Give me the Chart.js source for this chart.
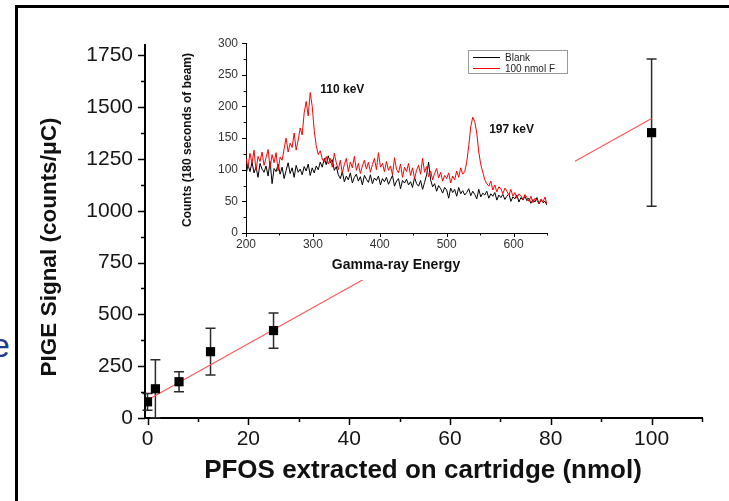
<!DOCTYPE html>
<html>
<head>
<meta charset="utf-8">
<script src="https://cdn.jsdelivr.net/npm/chart.js@4.4.1/dist/chart.umd.min.js"></script>
<style>
  html, body { margin: 0; padding: 0; background: #fff; overflow: hidden; }
  #wrap { position: relative; width: 729px; height: 501px; overflow: hidden; }
  #frame { position: absolute; left: 15px; top: 5px; width: 760px; height: 520px; border-left: 3px solid #000; border-top: 3px solid #000; }
  #cut { position: absolute; left: -9px; top: 326px; font: 34px "Liberation Sans", Arial, sans-serif; color: #1f3c8c; }
  #main { position: absolute; left: 0; top: 0; }
  #inset { position: absolute; left: 172px; top: 28px; background: #fff; }
</style>
</head>
<body>
<div id="wrap">
  <div id="cut">e</div>
  <div id="frame"></div>
  <canvas id="main" width="729" height="501"></canvas>
  <canvas id="inset" width="403" height="252"></canvas>
</div>
<script>
// main plot: PIGE signal vs PFOS on cartridge
const pfosNmol = [0, 1.5625, 6.25, 12.5, 25, 100];
const pigeSignal = [78, 141, 175, 320, 422, 1377];
const pigeError = [40, 140, 48, 113, 85, 355];
const fitNmol = [0, 100];
const fitSignal = [87, 1445];
const mainXTicks = [0, 20, 40, 60, 80, 100];
const mainXMinor = [10, 30, 50, 70, 90, 110];
const mainYTicks = [0, 250, 500, 750, 1000, 1250, 1500, 1750];
const mainYMinor = [125, 375, 625, 875, 1125, 1375, 1625];
const mainXTitle = "PFOS extracted on cartridge (nmol)";
const mainYTitle = "PIGE Signal (counts/\u03BCC)";

// inset: gamma spectra, one reading every 3 keV starting at 200 keV
const energyStart = 200;
const energyStep = 3;
const blankCounts = [
  92, 108, 97, 112, 95, 104, 88, 110, 101, 96,
  106, 90, 113, 78, 102, 97, 109, 93, 104, 86,
  99, 111, 94, 103, 88, 107, 96, 101, 92, 105,
  98, 109, 91, 103, 95, 106, 100, 112, 104, 118,
  108, 122, 111, 116, 99, 105, 92, 86, 97, 81,
  90, 84, 95, 79, 88, 93, 82, 89, 76, 91,
  85, 80, 92, 78, 87, 83, 90, 76, 86, 81,
  88, 77, 84, 91, 74, 82, 86, 70, 83, 79,
  85, 76, 81, 72, 88, 78, 74, 83, 69, 80,
  92, 112, 84, 73, 78, 66, 75, 70, 63, 72,
  68, 55, 71, 64, 69, 58, 72, 62, 67, 60,
  64, 70, 59, 66, 61, 54, 69, 57, 63, 60,
  66, 55, 62, 58, 64, 52, 60, 56, 61, 53,
  58, 62, 50, 57, 54, 60, 49, 56, 52, 58,
  51, 55, 47, 53, 49, 56, 46, 52, 48, 50,
  44
];
const fluorCounts = [
  118, 104, 126, 110, 131, 99, 121, 113, 128, 107,
  119, 132, 103, 124, 111, 127, 98, 120, 115, 133,
  150, 128, 142, 135, 158, 131, 147, 166, 155, 190,
  208, 185, 222, 200, 162, 138, 124, 130, 117, 112,
  121, 109, 118, 104, 126, 111, 100, 115, 95, 108,
  118, 97, 112, 103, 121, 99, 110, 94, 106, 115,
  101, 112, 96, 108, 118, 100, 127, 104, 110, 97,
  113, 99, 106, 92, 119, 101, 95, 109, 88, 104,
  97, 110, 91, 103, 86, 99, 107, 93, 118, 96,
  105, 89, 98, 84, 94, 102, 87, 96, 82, 91,
  86, 95, 79, 90, 84, 98, 88, 103, 93, 97,
  112, 138, 168, 183, 176, 158, 128, 108, 96, 84,
  78, 74, 82, 68, 76, 65, 73, 70, 62, 71,
  66, 60, 69, 58, 64, 55, 62, 59, 53, 61,
  56, 50, 58, 48, 55, 52, 46, 54, 49, 57,
  45
];
const seriesNames = ["Blank", "100 nmol F"];
const peakNames = ["110 keV", "197 keV"];
const insetXTicks = [200, 300, 400, 500, 600];
const insetXMinor = [250, 350, 450, 550, 650];
const insetYTicks = [0, 50, 100, 150, 200, 250, 300];
const insetYMinor = [25, 75, 125, 175, 225, 275];
const insetXTitle = "Gamma-ray Energy";
const insetYTitle = "Counts (180 seconds of beam)";

const FONT = '"Liberation Sans", Arial, sans-serif';

function toXY(xs, ys) {
  return ys.map((y, i) => ({ x: xs[i], y: y }));
}
function spectrum(counts) {
  return counts.map((c, i) => ({ x: energyStart + energyStep * i, y: c }));
}
function fixedTicks(values) {
  return scale => { scale.ticks = values.map(v => ({ value: v })); };
}
function drawTickMarks(ctx, scale, values, len, width) {
  ctx.save();
  ctx.strokeStyle = '#000';
  ctx.lineWidth = width;
  ctx.beginPath();
  values.forEach(v => {
    const p = Math.round(scale.getPixelForValue(v)) + 0.5;
    if (scale.isHorizontal()) {
      ctx.moveTo(p, scale.top);
      ctx.lineTo(p, scale.top + len);
    } else {
      ctx.moveTo(scale.right, p);
      ctx.lineTo(scale.right - len, p);
    }
  });
  ctx.stroke();
  ctx.restore();
}
function drawText(ctx, text, x, y, font, rotate) {
  ctx.save();
  ctx.font = font;
  ctx.fillStyle = '#111';
  ctx.textAlign = 'center';
  ctx.textBaseline = 'middle';
  ctx.translate(x, y);
  if (rotate) ctx.rotate(-Math.PI / 2);
  ctx.fillText(text, 0, 0);
  ctx.restore();
}

// error bars and axis decorations for the main plot
const mainExtras = {
  id: 'mainExtras',
  beforeDatasetsDraw(chart) {
    const { ctx, scales: { x, y } } = chart;
    ctx.save();
    ctx.strokeStyle = '#2b2b2b';
    ctx.lineWidth = 1.5;
    pfosNmol.forEach((n, i) => {
      const px = x.getPixelForValue(n);
      const top = y.getPixelForValue(pigeSignal[i] + pigeError[i]);
      const bot = y.getPixelForValue(Math.max(0, pigeSignal[i] - pigeError[i]));
      ctx.beginPath();
      ctx.moveTo(px, top); ctx.lineTo(px, bot);
      ctx.moveTo(px - 5, top); ctx.lineTo(px + 5, top);
      if (pigeSignal[i] - pigeError[i] > 0) {
        ctx.moveTo(px - 5, bot); ctx.lineTo(px + 5, bot);
      }
      ctx.stroke();
    });
    ctx.restore();
  },
  afterDraw(chart) {
    const { ctx, scales: { x, y } } = chart;
    drawTickMarks(ctx, x, mainXTicks, 7, 1.5);
    drawTickMarks(ctx, x, mainXMinor, 4, 1.5);
    drawTickMarks(ctx, y, mainYTicks, 7, 1.5);
    drawTickMarks(ctx, y, mainYMinor, 4, 1.5);
    drawText(ctx, mainYTitle, 50, 247, 'bold 22.5px ' + FONT, true);
    drawText(ctx, mainXTitle, 423, 471, 'bold 26px ' + FONT, false);
  }
};

new Chart(document.getElementById('main'), {
  type: 'scatter',
  data: {
    datasets: [
      {
        data: toXY(pfosNmol, pigeSignal),
        pointStyle: 'rect',
        pointRadius: 6.5,
        backgroundColor: '#000',
        borderColor: '#000',
        borderWidth: 0
      },
      {
        data: toXY(fitNmol, fitSignal),
        showLine: true,
        borderColor: '#ff5a5a',
        borderWidth: 1.2,
        pointRadius: 0
      }
    ]
  },
  options: {
    responsive: false,
    animation: false,
    layout: { padding: { top: 45, right: 27, bottom: 0, left: 0 } },
    plugins: { legend: { display: false }, tooltip: { enabled: false } },
    scales: {
      x: {
        type: 'linear',
        min: -0.5,
        max: 110,
        afterFit: s => { s.height = 83; },
        afterBuildTicks: fixedTicks(mainXTicks),
        grid: { display: false, drawTicks: false },
        border: { color: '#000', width: 2 },
        ticks: { font: { size: 21, family: FONT }, color: '#151515', padding: 9, maxRotation: 0, autoSkip: false, callback: v => String(v) }
      },
      y: {
        type: 'linear',
        min: 0,
        max: 1800,
        afterFit: s => { s.width = 145; },
        afterBuildTicks: fixedTicks(mainYTicks),
        grid: { display: false, drawTicks: false },
        border: { color: '#000', width: 2 },
        ticks: { font: { size: 21, family: FONT }, color: '#151515', padding: 12, autoSkip: false, callback: v => String(v) }
      }
    }
  },
  plugins: [mainExtras]
});

// ticks, titles, peak labels and legend for the inset
const insetExtras = {
  id: 'insetExtras',
  afterDraw(chart) {
    const { ctx, scales: { x, y } } = chart;
    drawTickMarks(ctx, x, insetXTicks, 4, 1);
    drawTickMarks(ctx, x, insetXMinor, 2.5, 1);
    drawTickMarks(ctx, y, insetYTicks, 4, 1);
    drawTickMarks(ctx, y, insetYMinor, 2.5, 1);
    drawText(ctx, insetYTitle, 16, 112, 'bold 12px ' + FONT, true);
    drawText(ctx, insetXTitle, 224, 237, 'bold 14px ' + FONT, false);
    drawText(ctx, peakNames[0], x.getPixelForValue(344), y.getPixelForValue(227), 'bold 12px ' + FONT, false);
    drawText(ctx, peakNames[1], x.getPixelForValue(597), y.getPixelForValue(163), 'bold 12px ' + FONT, false);

    // legend box
    ctx.save();
    ctx.strokeStyle = '#9a9a9a';
    ctx.lineWidth = 1;
    ctx.strokeRect(296.5, 22.5, 99, 23);
    const colors = ['#000', '#ff0000'];
    ctx.font = '10px ' + FONT;
    ctx.textBaseline = 'middle';
    seriesNames.forEach((name, i) => {
      const ly = 29 + i * 11;
      ctx.strokeStyle = colors[i];
      ctx.beginPath();
      ctx.moveTo(301, ly + 0.5); ctx.lineTo(328, ly + 0.5);
      ctx.stroke();
      ctx.fillStyle = '#222';
      ctx.fillText(name, 333, ly + 1);
    });
    ctx.restore();
  }
};

new Chart(document.getElementById('inset'), {
  type: 'scatter',
  data: {
    datasets: [
      {
        label: seriesNames[1],
        data: spectrum(fluorCounts),
        showLine: true,
        borderColor: '#ff0000',
        borderWidth: 1,
        pointRadius: 0
      },
      {
        label: seriesNames[0],
        data: spectrum(blankCounts),
        showLine: true,
        borderColor: '#000',
        borderWidth: 1,
        pointRadius: 0
      }
    ]
  },
  options: {
    responsive: false,
    animation: false,
    layout: { padding: { top: 12, right: 28, bottom: 0, left: 0 } },
    plugins: { legend: { display: false }, tooltip: { enabled: false } },
    scales: {
      x: {
        type: 'linear',
        min: 200,
        max: 650,
        afterFit: s => { s.height = 47; },
        afterBuildTicks: fixedTicks(insetXTicks),
        grid: { display: false, drawTicks: false },
        border: { color: '#000', width: 1 },
        ticks: { font: { size: 12, family: FONT }, color: '#333', padding: 4, maxRotation: 0, autoSkip: false, callback: v => String(v) }
      },
      y: {
        type: 'linear',
        min: 0,
        max: 300,
        afterFit: s => { s.width = 74; },
        afterBuildTicks: fixedTicks(insetYTicks),
        grid: { display: false, drawTicks: false },
        border: { color: '#000', width: 1 },
        ticks: { font: { size: 12, family: FONT }, color: '#333', padding: 8, autoSkip: false, callback: v => String(v) }
      }
    }
  },
  plugins: [insetExtras]
});
</script>
</body>
</html>
